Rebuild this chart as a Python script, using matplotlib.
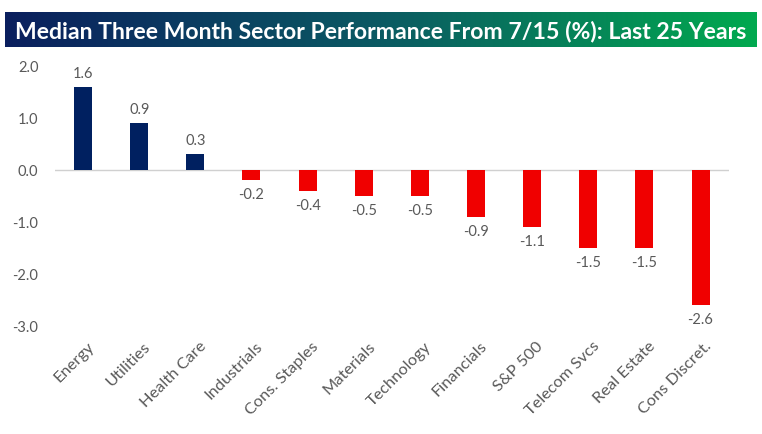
import matplotlib
matplotlib.use("Agg")
import matplotlib.pyplot as plt
import numpy as np
from matplotlib.colors import LinearSegmentedColormap
import matplotlib.transforms as mtransforms

categories = ["Energy", "Utilities", "Health Care", "Industrials", "Cons. Staples",
              "Materials", "Technology", "Financials", "S&P 500", "Telecom Svcs",
              "Real Estate", "Cons Discret."]
values = [1.6, 0.9, 0.3, -0.2, -0.4, -0.5, -0.5, -0.9, -1.1, -1.5, -1.5, -2.6]
yticks = [2.0, 1.0, 0.0, -1.0, -2.0, -3.0]
title = "Median Three Month Sector Performance From 7/15 (%): Last 25 Years"

plt.rcParams['font.family'] = ['Lato', 'DejaVu Sans']
W, H = 762, 435
fig = plt.figure(figsize=(W / 100, H / 100), dpi=100)

# title bar with gradient
tax = fig.add_axes([5 / W, 1 - 48 / H, 752 / W, 35 / H])
cmap = LinearSegmentedColormap.from_list("g", ["#0a1f5e", "#0b5a63", "#01a94f"])
grad = np.linspace(0, 1, 256).reshape(1, -1)
tax.imshow(grad, aspect='auto', cmap=cmap, extent=[0, 1, 0, 1])
tax.set_axis_off()
tax.text(0.5, 0.47, title, color='white', fontsize=16.6, fontweight='bold',
         ha='center', va='center', transform=tax.transAxes)

ax = fig.add_axes([55 / W, 1 - 327 / H, (728.6 - 55) / W, (327 - 67) / H])
x = np.arange(len(categories))
colors = ["#002060" if v >= 0 else "#F00000" for v in values]
ax.bar(x, values, width=0.32, color=colors, zorder=2)
ax.set_xlim(-0.5, len(categories) - 0.5)
ax.set_ylim(-3.0, 2.0)
ax.axhline(0, color="#D0D0D0", lw=1, zorder=1)
for s in ax.spines.values():
    s.set_visible(False)
ax.set_yticks(yticks)
ax.set_yticklabels([f"{t:.1f}" for t in yticks])
ax.tick_params(axis='y', length=0, pad=12, labelsize=10.5, labelcolor="#595959")
ax.tick_params(axis='x', length=0, pad=9, labelsize=11.8, labelcolor="#595959")
ax.set_xticks(x)
ax.set_xticklabels(categories, rotation=45, ha='right', rotation_mode='anchor')
offset = mtransforms.ScaledTranslation(3 / 72, 0, fig.dpi_scale_trans)
for lbl in ax.get_xticklabels():
    lbl.set_transform(lbl.get_transform() + offset)

for xi, v in zip(x, values):
    if v >= 0:
        ax.annotate(f"{v:.1f}", (xi, v), xytext=(0, 5), textcoords='offset points',
                    ha='center', va='bottom', fontsize=10.5, color="#595959")
    else:
        ax.annotate(f"{v:.1f}", (xi, v), xytext=(0, -5), textcoords='offset points',
                    ha='center', va='top', fontsize=10.5, color="#595959")

fig.savefig("out.png", dpi=100)
